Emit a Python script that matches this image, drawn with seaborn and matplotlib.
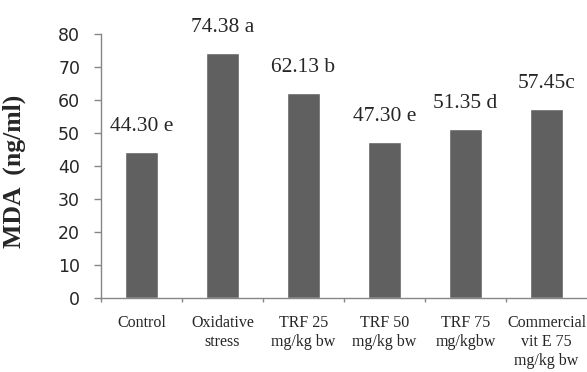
import matplotlib
matplotlib.use("Agg")
import matplotlib.pyplot as plt
import seaborn as sns
import numpy as np

# data
groups = ["Control", "Oxidative\nstress", "TRF 25\nmg/kg bw", "TRF 50\nmg/kg bw",
          "TRF 75\nmg/kgbw", "Commercial\nvit E 75\nmg/kg bw"]
mda = [44.30, 74.38, 62.13, 47.30, 51.35, 57.45]
letters = ["44.30 e", "74.38 a", "62.13 b", "47.30 e", "51.35 d", "57.45c"]

sns.set_style("white")
plt.rcParams['font.family'] = ['DejaVu Sans']

fig = plt.figure(figsize=(5.87, 3.72), dpi=100)
ax = fig.add_axes([0.172, 0.1976, 0.828, 0.7102])

sns.barplot(x=groups, y=mda, color="#606060", saturation=1, width=0.4, ax=ax)

for i, (v, t) in enumerate(zip(mda, letters)):
    ax.annotate(t, (i, v), xytext=(0, 15), textcoords="offset points",
                ha="center", va="baseline", fontsize=15.5,
                family="Liberation Serif")

ax.set_ylim(0, 80)
ax.set_xlim(-0.5, 5.5)
ax.set_yticks(np.arange(0, 81, 10))
ax.tick_params(axis="y", labelsize=12.5, length=5, width=1, color="#868686",
               direction="out", pad=10, left=True)
ax.set_xticks(np.arange(-0.5, 5.0, 1), minor=True)
ax.tick_params(axis="x", which="minor", length=3, width=1, color="#868686",
               direction="out", bottom=True)
ax.tick_params(axis="x", which="major", length=0, pad=12)
for lab in ax.get_xticklabels():
    lab.set_family("Liberation Serif")
    lab.set_fontsize(11.5)
    lab.set_linespacing(1.25)

for s in ["top", "right"]:
    ax.spines[s].set_visible(False)
for s in ["left", "bottom"]:
    ax.spines[s].set_color("#868686")
    ax.spines[s].set_linewidth(1)

ax.set_ylabel("MDA  (ng/ml)", fontsize=18.5, fontweight="bold",
              family="Liberation Serif", labelpad=8)
ax.yaxis.set_label_coords(-0.155, 0.48)
ax.set_xlabel("")

fig.savefig("out.png", dpi=100)
